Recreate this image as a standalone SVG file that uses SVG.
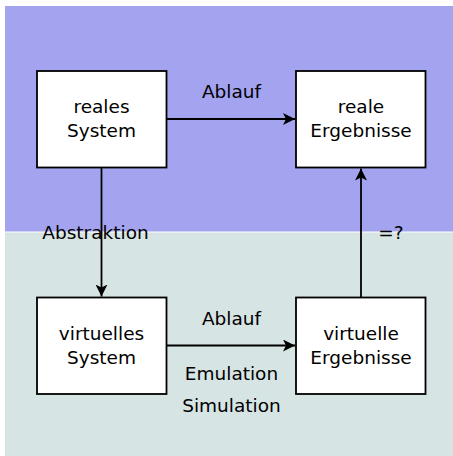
<svg xmlns="http://www.w3.org/2000/svg" width="453" height="456" viewBox="0 0 453 456">
<style>
.box{fill:#fff;stroke:#000;stroke-width:1.8}
.lbl{font-family:"DejaVu Sans",sans-serif;font-size:18.5px;fill:#000;text-anchor:middle}
.con{stroke:#000;stroke-width:1.8;fill:none;marker-end:url(#ah)}
</style>
<defs>
<marker id="ah" markerUnits="userSpaceOnUse" markerWidth="12" markerHeight="12" refX="10" refY="5" orient="auto" viewBox="0 0 10 10">
<path d="M0,0 L10,5 L0,10 L2.5,5 Z" fill="#000"/>
</marker>
</defs>
<rect x="5" y="6" width="448" height="225.5" fill="#a3a3ef"/>
<rect x="5" y="232.5" width="448" height="223.5" fill="#d7e4e4"/>
<g id="connectors">
<line class="con" x1="167" y1="119" x2="295" y2="119"/>
<line class="con" x1="101.5" y1="168" x2="101.5" y2="296.5"/>
<line class="con" x1="361" y1="297" x2="361" y2="168.5"/>
<line class="con" x1="167" y1="345.5" x2="295" y2="345.5"/>
</g>
<g id="reales-system"><rect class="box" x="37" y="71" width="129.5" height="96.5"/><text class="lbl" x="101.5" y="113">reales</text><text class="lbl" x="101.5" y="137">System</text></g>
<g id="reale-ergebnisse"><rect class="box" x="296" y="71" width="129.5" height="96.5"/><text class="lbl" x="361" y="113">reale</text><text class="lbl" x="361" y="137">Ergebnisse</text></g>
<g id="virtuelles-system"><rect class="box" x="37" y="297.5" width="129.5" height="96.5"/><text class="lbl" x="101.5" y="340">virtuelles</text><text class="lbl" x="101.5" y="364">System</text></g>
<g id="virtuelle-ergebnisse"><rect class="box" x="296" y="297.5" width="129.5" height="96.5"/><text class="lbl" x="361" y="340">virtuelle</text><text class="lbl" x="361" y="364">Ergebnisse</text></g>
<g id="labels">
<text class="lbl" x="231.5" y="98">Ablauf</text>
<text class="lbl" x="95.5" y="239">Abstraktion</text>
<text class="lbl" x="391" y="239">=?</text>
<text class="lbl" x="231.5" y="325">Ablauf</text>
<text class="lbl" x="231.5" y="380">Emulation</text>
<text class="lbl" x="231.5" y="412">Simulation</text>
</g>
</svg>
